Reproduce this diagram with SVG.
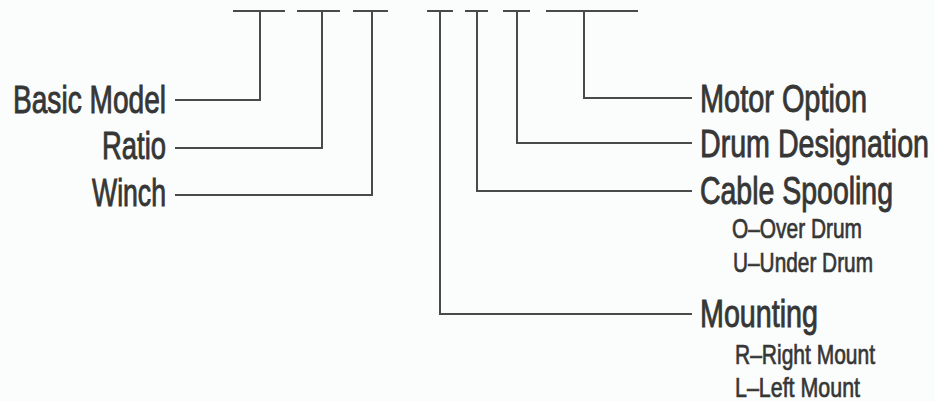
<svg xmlns="http://www.w3.org/2000/svg" width="935" height="401" viewBox="0 0 935 401">
<style>
.bg{fill:#fafdfb}
.ln{fill:none;stroke:#4a4a4a;stroke-width:2}
.big{font-family:"Liberation Sans",Arial,sans-serif;font-size:38px;fill:#363636;stroke:#363636;stroke-width:0.9}
.sm{font-family:"Liberation Sans",Arial,sans-serif;font-size:28px;fill:#363636;stroke:#363636;stroke-width:0.7}
</style>
<rect class="bg" x="0" y="0" width="935" height="401"/>
<g id="connectors">
<path class="ln" d="M233 11H285M297 11H340M353 11H388M427 11H453M465 11H488M503 11H530M546 11H638"/>
<path class="ln" d="M260 11V100H175"/>
<path class="ln" d="M322 11V148H175"/>
<path class="ln" d="M372 11V195H175"/>
<path class="ln" d="M440 11V314H692"/>
<path class="ln" d="M477 11V191H692"/>
<path class="ln" d="M517 11V143H692"/>
<path class="ln" d="M584 11V98H692"/>
</g>
<g id="basic-model"><text class="big" x="13" y="113" textLength="153" lengthAdjust="spacingAndGlyphs">Basic Model</text></g>
<g id="ratio"><text class="big" x="102" y="159" textLength="64" lengthAdjust="spacingAndGlyphs">Ratio</text></g>
<g id="winch"><text class="big" x="92" y="206" textLength="74" lengthAdjust="spacingAndGlyphs">Winch</text></g>
<g id="motor-option"><text class="big" x="700" y="112" textLength="167" lengthAdjust="spacingAndGlyphs">Motor Option</text></g>
<g id="drum-designation"><text class="big" x="700" y="157" textLength="229" lengthAdjust="spacingAndGlyphs">Drum Designation</text></g>
<g id="cable-spooling">
<text class="big" x="700" y="204" textLength="193" lengthAdjust="spacingAndGlyphs">Cable Spooling</text>
<text class="sm" x="732" y="238" textLength="130" lengthAdjust="spacingAndGlyphs">O–Over Drum</text>
<text class="sm" x="733" y="272" textLength="140" lengthAdjust="spacingAndGlyphs">U–Under Drum</text>
</g>
<g id="mounting">
<text class="big" x="700" y="327" textLength="118" lengthAdjust="spacingAndGlyphs">Mounting</text>
<text class="sm" x="735" y="364" textLength="140" lengthAdjust="spacingAndGlyphs">R–Right Mount</text>
<text class="sm" x="735" y="397" textLength="125" lengthAdjust="spacingAndGlyphs">L–Left Mount</text>
</g>
</svg>
